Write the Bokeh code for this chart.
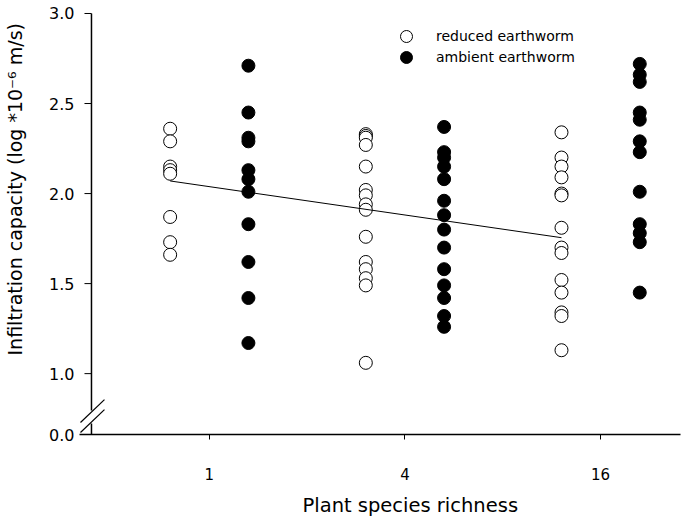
from bokeh.plotting import figure
from bokeh.models import (Range1d, FixedTicker, CustomJSTickFormatter, Legend,
                          LegendItem, ColumnDataSource, Title)
from bokeh.embed import file_html
from bokeh.resources import INLINE

# ---- data ----
richness_labels = ["1", "4", "16"]
richness_pos = [1, 2, 3]

reduced_1 = [2.36, 2.29, 2.15, 2.13, 2.11, 1.87, 1.73, 1.66]
ambient_1 = [2.71, 2.45, 2.31, 2.29, 2.13, 2.08, 2.01, 1.83, 1.62, 1.42, 1.17]
reduced_4 = [2.33, 2.32, 2.31, 2.27, 2.15, 2.02, 1.99, 1.94, 1.91, 1.76, 1.62,
             1.58, 1.53, 1.49, 1.06]
ambient_4 = [2.37, 2.23, 2.20, 2.15, 2.08, 1.96, 1.88, 1.80, 1.70, 1.58, 1.49,
             1.42, 1.32, 1.26]
reduced_16 = [2.34, 2.20, 2.15, 2.09, 2.00, 1.99, 1.81, 1.70, 1.67, 1.52, 1.45,
              1.34, 1.32, 1.13]
ambient_16 = [2.72, 2.66, 2.62, 2.45, 2.41, 2.29, 2.23, 2.01, 1.83, 1.78, 1.73,
              1.45]

reg_x_levels = [1, 3]          # richness positions (1 and 16 species)
reg_y = [2.07, 1.755]          # fitted line for reduced earthworm

y_ticks = [1.0, 1.5, 2.0, 2.5, 3.0]
y_break_value = 0.662          # drawn as "0.0" below the axis break
offset = 0.2

x_title = "Plant species richness"
y_title = "Infiltration capacity (log *10\u207b\u2076 m/s)"

# ---- build sources ----
def build(groups, shift):
    xs, ys = [], []
    for pos, vals in zip(richness_pos, groups):
        xs += [pos + shift] * len(vals)
        ys += vals
    return ColumnDataSource(dict(x=xs, y=ys))

src_red = build([reduced_1, reduced_4, reduced_16], -offset)
src_amb = build([ambient_1, ambient_4, ambient_16], +offset)

# scale: pixels per data unit
PXU_X, PXU_Y = 196.0, 180.5
x_axis = 0.398                       # where the y axis line sits
x0 = x_axis - 12 / PXU_X
x1 = x_axis + 590 / PXU_X
y0 = y_break_value
y1 = 3.0 + 3 / PXU_Y

p = figure(width=683, height=526, output_backend="svg", toolbar_location=None,
           x_range=Range1d(x0, x1), y_range=Range1d(y0, y1),
           min_border_left=78, min_border_right=3, min_border_top=10,
           min_border_bottom=91, outline_line_color=None)
p.grid.visible = False
p.background_fill_color = "white"

r_red = p.scatter("x", "y", source=src_red, size=13, marker="circle",
                  fill_color="white", line_color="black", line_width=1)
r_amb = p.scatter("x", "y", source=src_amb, size=13, marker="circle",
                  fill_color="black", line_color="black", line_width=1)
p.line([v - offset for v in reg_x_levels], reg_y, line_color="black", line_width=1)

# ---- axes ----
font = "DejaVu Sans"
p.xaxis.ticker = FixedTicker(ticks=richness_pos)
p.xaxis.major_label_overrides = {k: v for k, v in zip(richness_pos, richness_labels)}
p.xaxis.axis_line_width = 1.5
p.xaxis.axis_line_color = "black"
p.xaxis.major_tick_line_color = "black"
p.xaxis.major_tick_in = 0
p.xaxis.major_tick_out = 5
p.xaxis.minor_tick_line_color = None
p.xaxis.major_label_standoff = 28
p.xaxis.major_label_text_font = font
p.xaxis.major_label_text_font_size = "15px"
p.xaxis.major_label_text_color = "black"

# y axis: labels from bokeh, line + ticks drawn at x_axis (with the break)
p.yaxis.ticker = FixedTicker(ticks=[y_break_value] + y_ticks)
p.yaxis.formatter = CustomJSTickFormatter(code="return tick < 0.9 ? '0.0' : tick.toFixed(1);")
p.yaxis.axis_line_color = None
p.yaxis.major_tick_line_color = None
p.yaxis.minor_tick_line_color = None
p.yaxis.major_tick_in = 0
p.yaxis.major_tick_out = 0
p.yaxis.major_label_standoff = 5
p.yaxis.major_label_text_font = font
p.yaxis.major_label_text_font_size = "16px"
p.yaxis.major_label_text_color = "black"
# blank spacer so the rotated title sits closer to the page edge
p.yaxis.axis_label = " "
p.yaxis.axis_label_text_font_size = "1px"
p.yaxis.axis_label_standoff = 15

def yd(px_above_bottom):
    return y0 + px_above_bottom / PXU_Y
def xd(px_from_axis):
    return x_axis + px_from_axis / PXU_X

# axis line (interrupted at the break)
p.segment(x0=[x_axis, x_axis], y0=[yd(24), y0], x1=[x_axis, x_axis],
          y1=[3.0, yd(11)], line_color="black", line_width=1.5)
# major ticks pointing left
p.segment(x0=[xd(-7)] * len(y_ticks), y0=y_ticks, x1=[x_axis] * len(y_ticks),
          y1=y_ticks, line_color="black", line_width=1)
# break marks
p.segment(x0=[xd(-11), xd(-11)], y0=[yd(12), yd(2)], x1=[xd(13), xd(13)],
          y1=[yd(35), yd(25)], line_color="black", line_width=1.2)

# axis titles
p.add_layout(Title(text=x_title, align="left", offset=223, standoff=19,
                   text_font=font, text_font_size="19.5px",
                   text_font_style="normal", text_color="black"), "below")
p.add_layout(Title(text=y_title, align="left", offset=79, standoff=2,
                   text_font=font, text_font_size="19px",
                   text_font_style="normal", text_color="black"), "left")

# legend
def make_legend(label, renderer, vy):
    lg = Legend(items=[LegendItem(label=label, renderers=[renderer])],
                location=(312, vy), glyph_width=30, glyph_height=30,
                label_standoff=15, padding=0, margin=0, spacing=0,
                border_line_color=None, background_fill_alpha=0,
                label_text_font=font, label_text_font_size="14px",
                label_text_color="black", label_height=17)
    p.add_layout(lg, "center")

make_legend("reduced earthworm", r_red, 383)
make_legend("ambient earthworm", r_amb, 362)

open("out.html", "w").write(file_html(p, INLINE))
